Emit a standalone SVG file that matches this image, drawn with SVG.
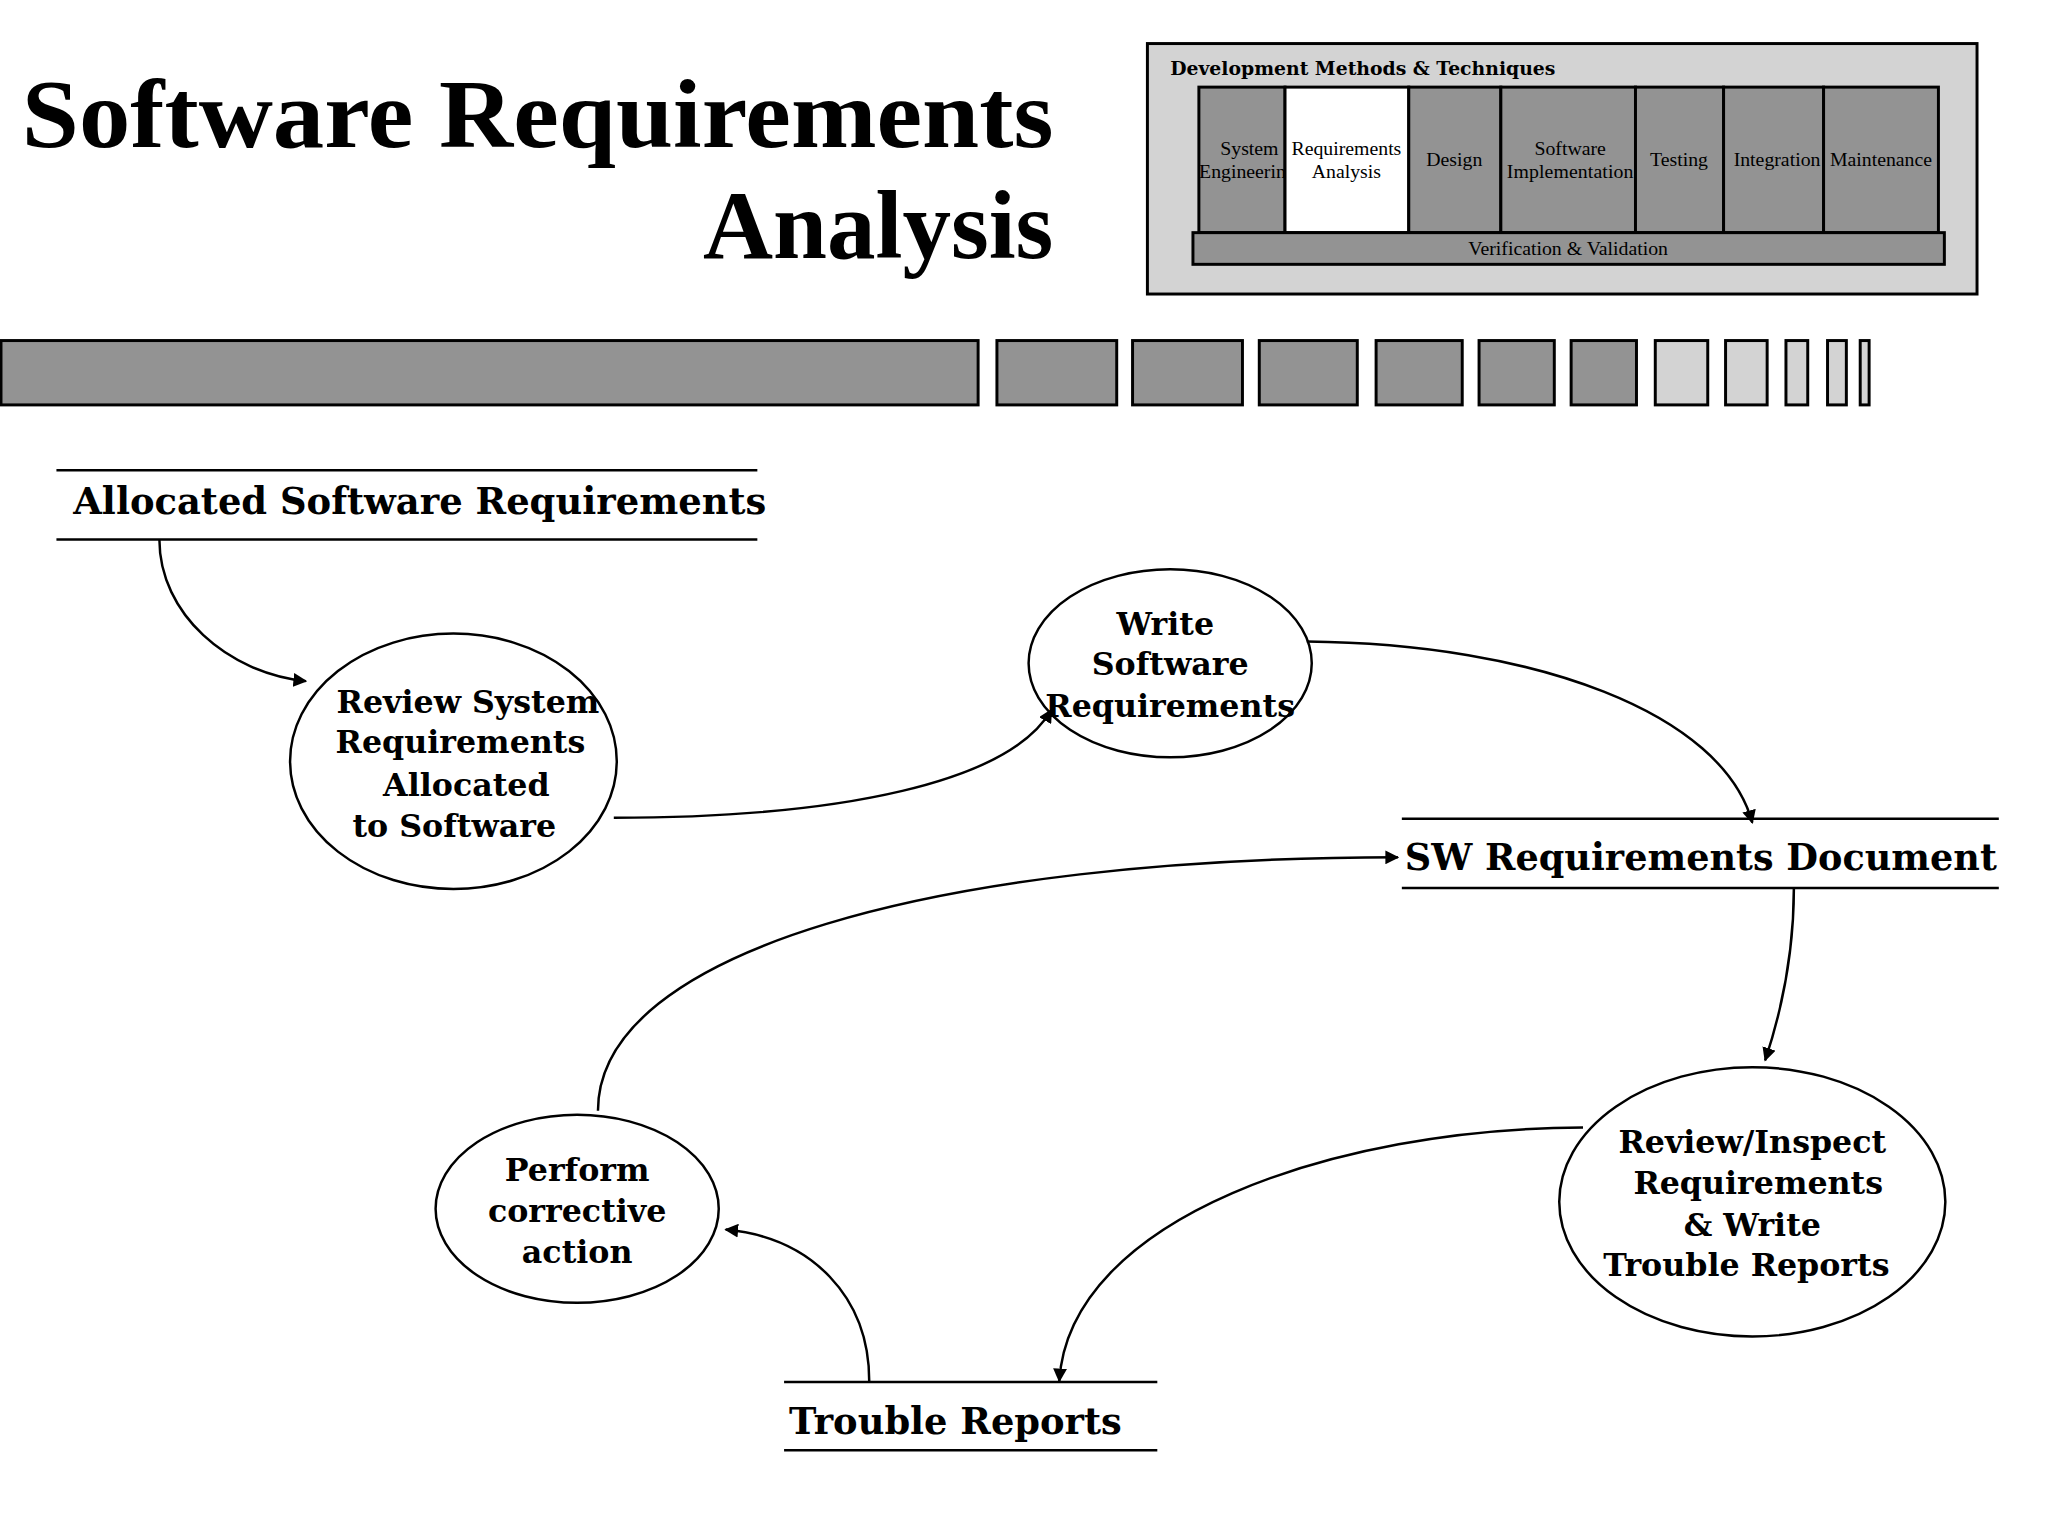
<svg xmlns="http://www.w3.org/2000/svg" width="2048" height="1536" viewBox="0 0 2048 1536">
<style>
.dk{fill:#939393;stroke:#000;stroke-width:3}
.lt{fill:#d3d3d3;stroke:#000;stroke-width:3}
.col{font-family:"Liberation Serif",serif;font-size:20px;text-anchor:middle}
.nt{font-family:"DejaVu Serif",serif;font-weight:bold;font-size:32px}
.st{font-family:"DejaVu Serif",serif;font-weight:bold;font-size:37px}
.el{fill:#fff;stroke:#000;stroke-width:2.5}
.ds{stroke:#000;stroke-width:2.5}
.c{fill:none;stroke:#000;stroke-width:2.5;marker-end:url(#a)}
</style>
<defs><marker id="a" viewBox="0 0 10 10" refX="9" refY="5" markerWidth="14" markerHeight="14" markerUnits="userSpaceOnUse" orient="auto"><path d="M0,0L10,5L0,10z"/></marker></defs>
<rect width="2048" height="1536" fill="#fff"/>
<g transform="scale(0.99)">
<g id="title" font-family="Liberation Serif,serif" font-weight="bold" font-size="98" text-anchor="end">
<text x="1064" y="149" textLength="1042" lengthAdjust="spacingAndGlyphs">Software Requirements</text>
<text x="1064" y="261">Analysis</text>
</g>
<g id="phases">
<rect x="1159" y="44" width="838" height="253" class="lt"/>
<text x="1182" y="76" font-family="DejaVu Serif,serif" font-weight="bold" font-size="19">Development Methods &amp; Techniques</text>
<rect x="1211" y="88" width="87" height="147" class="dk"/>
<rect x="1298" y="88" width="125" height="147" fill="#fff" stroke="#000" stroke-width="3"/>
<rect x="1423" y="88" width="93" height="147" class="dk"/>
<rect x="1516" y="88" width="136" height="147" class="dk"/>
<rect x="1652" y="88" width="89" height="147" class="dk"/>
<rect x="1741" y="88" width="101" height="147" class="dk"/>
<rect x="1842" y="88" width="116" height="147" class="dk"/>
<rect x="1205" y="235" width="759" height="32" class="dk"/>
<text class="col" x="1262" y="157">System</text><text class="col" x="1255" y="180">Engineerin</text>
<text class="col" x="1360" y="157">Requirements</text><text class="col" x="1360" y="180">Analysis</text>
<text class="col" x="1469" y="168">Design</text>
<text class="col" x="1586" y="157">Software</text><text class="col" x="1586" y="180" textLength="128">Implementation</text>
<text class="col" x="1696" y="168">Testing</text>
<text class="col" x="1795" y="168">Integration</text>
<text class="col" x="1900" y="168">Maintenance</text>
<text class="col" x="1584" y="258">Verification &amp; Validation</text>
</g>
<g id="bar">
<rect x="1" y="344" width="987" height="65" class="dk"/>
<rect x="1007" y="344" width="121" height="65" class="dk"/>
<rect x="1144" y="344" width="111" height="65" class="dk"/>
<rect x="1272" y="344" width="99" height="65" class="dk"/>
<rect x="1390" y="344" width="87" height="65" class="dk"/>
<rect x="1494" y="344" width="76" height="65" class="dk"/>
<rect x="1587" y="344" width="66" height="65" class="dk"/>
<rect x="1672" y="344" width="53" height="65" class="lt"/>
<rect x="1743" y="344" width="42" height="65" class="lt"/>
<rect x="1804" y="344" width="22" height="65" class="lt"/>
<rect x="1846" y="344" width="19" height="65" class="lt"/>
<rect x="1879" y="344" width="9" height="65" class="lt"/>
</g>
<g id="store-allocated">
<line x1="57" y1="475" x2="765" y2="475" class="ds"/><line x1="57" y1="545" x2="765" y2="545" class="ds"/>
<text class="st" x="74" y="519" textLength="700" lengthAdjust="spacingAndGlyphs">Allocated Software Requirements</text>
</g>
<g id="store-swrd">
<line x1="1416" y1="827" x2="2019" y2="827" class="ds"/><line x1="1416" y1="897" x2="2019" y2="897" class="ds"/>
<text class="st" x="1419" y="879" textLength="598" lengthAdjust="spacingAndGlyphs">SW Requirements Document</text>
</g>
<g id="store-trouble">
<line x1="792" y1="1396" x2="1169" y2="1396" class="ds"/><line x1="792" y1="1465" x2="1169" y2="1465" class="ds"/>
<text class="st" x="797" y="1449" textLength="336" lengthAdjust="spacingAndGlyphs">Trouble Reports</text>
</g>
<g id="review-system">
<ellipse cx="458" cy="769" rx="165" ry="129" class="el"/>
<text class="nt" x="340" y="720">Review System</text>
<text class="nt" x="339" y="761">Requirements</text>
<text class="nt" x="387" y="804">Allocated</text>
<text class="nt" x="356" y="845">to Software</text>
</g>
<g id="write-sw" text-anchor="middle">
<ellipse cx="1182" cy="670" rx="143" ry="95" class="el"/>
<text class="nt" x="1177" y="641">Write</text>
<text class="nt" x="1182" y="682">Software</text>
<text class="nt" x="1182" y="724">Requirements</text>
</g>
<g id="review-inspect" text-anchor="middle">
<ellipse cx="1770" cy="1214" rx="195" ry="136" class="el"/>
<text class="nt" x="1770" y="1165">Review/Inspect</text>
<text class="nt" x="1776" y="1206">Requirements</text>
<text class="nt" x="1770" y="1248">&amp; Write</text>
<text class="nt" x="1764" y="1289">Trouble Reports</text>
</g>
<g id="perform" text-anchor="middle">
<ellipse cx="583" cy="1221" rx="143" ry="95" class="el"/>
<text class="nt" x="583" y="1193">Perform</text>
<text class="nt" x="583" y="1234">corrective</text>
<text class="nt" x="583" y="1276">action</text>
</g>
<g id="connectors">
<path class="c" d="M161,545C161,620 230,680 309,688"/>
<path class="c" d="M620,826C850,826 1020,790 1062,717"/>
<path class="c" d="M1320,648C1550,650 1740,720 1770,831"/>
<path class="c" d="M1812,897C1812,960 1800,1020 1783,1071"/>
<path class="c" d="M1599,1139C1350,1139 1080,1230 1070,1395"/>
<path class="c" d="M878,1395C878,1310 820,1250 733,1242"/>
<path class="c" d="M604,1122C604,960 950,866 1412,866"/>
</g>
</g>
</svg>
